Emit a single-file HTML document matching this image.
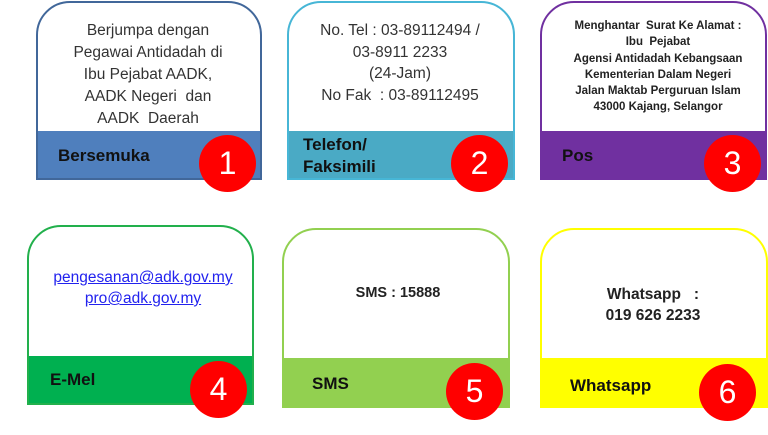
<!DOCTYPE html>
<html><head><meta charset="utf-8"><style>
body{margin:0;width:768px;height:435px;background:#fff;position:relative;overflow:hidden;font-family:"Liberation Sans",sans-serif}
.box{position:absolute;box-sizing:border-box;border:2px solid;border-radius:34px 34px 0 0;background:#fff;overflow:hidden}
.band{position:absolute;left:0;right:0;bottom:0}
.t{position:absolute;text-align:center;color:#333;white-space:nowrap;transform:translateX(-50%)}
.lbl{position:absolute;font-weight:bold;font-size:17px;color:#111;white-space:nowrap}
.c{position:absolute;width:57px;height:57px;border-radius:50%;background:#f00;color:#fff;font-size:32px;line-height:57px;text-align:center}
</style></head><body>
<div class="box" style="left:36px;top:1px;width:226px;height:179px;border-color:#41679a"><div class="band" style="height:47px;background:#4f7fbd"></div></div>
<div class="box" style="left:287px;top:1px;width:228px;height:179px;border-color:#47b6d6"><div class="band" style="height:47px;background:#4aaac5"></div></div>
<div class="box" style="left:540px;top:1px;width:227px;height:179px;border-color:#7030a0"><div class="band" style="height:47px;background:#7030a0"></div></div>
<div class="box" style="left:27px;top:225px;width:227px;height:180px;border-color:#22b04c"><div class="band" style="height:47px;background:#00b050"></div></div>
<div class="box" style="left:282px;top:228px;width:228px;height:180px;border-color:#92d050"><div class="band" style="height:48px;background:#92d050"></div></div>
<div class="box" style="left:540px;top:228px;width:228px;height:180px;border-color:#ffff00"><div class="band" style="height:48px;background:#ffff00"></div></div>

<div class="t" style="left:148px;top:20px;font-size:15.5px;line-height:22px">Berjumpa dengan<br>Pegawai Antidadah di<br>Ibu Pejabat AADK,<br>AADK Negeri&nbsp; dan<br>AADK&nbsp; Daerah</div>
<div class="t" style="left:400px;top:20px;font-size:15.5px;line-height:21.5px">No. Tel : 03-89112494 /<br>03-8911 2233<br>(24-Jam)<br>No Fak&nbsp; : 03-89112495</div>
<div class="t" style="left:658px;top:18px;font-size:11.5px;line-height:16.3px;font-weight:bold;color:#222">Menghantar&nbsp; Surat Ke Alamat :<br>Ibu&nbsp; Pejabat<br>Agensi Antidadah Kebangsaan<br>Kementerian Dalam Negeri<br>Jalan Maktab Perguruan Islam<br>43000 Kajang, Selangor</div>

<div class="t" style="left:143px;top:267px;font-size:15.5px;line-height:21px;color:#2222ee;text-decoration:underline">pengesanan@adk.gov.my<br>pro@adk.gov.my</div>
<div class="t" style="left:398px;top:285px;font-size:14.5px;font-weight:bold;color:#222">SMS : 15888</div>
<div class="t" style="left:653px;top:284px;font-size:15.5px;line-height:21px;font-weight:bold;color:#222">Whatsapp&nbsp;&nbsp;&nbsp;:<br>019 626 2233</div>

<div class="lbl" style="left:58px;top:146px">Bersemuka</div>
<div class="lbl" style="left:303px;top:134px;line-height:22px">Telefon/<br>Faksimili</div>
<div class="lbl" style="left:562px;top:146px">Pos</div>
<div class="lbl" style="left:50px;top:370px">E-Mel</div>
<div class="lbl" style="left:312px;top:374px">SMS</div>
<div class="lbl" style="left:570px;top:376px">Whatsapp</div>

<div class="c" style="left:199px;top:135px">1</div>
<div class="c" style="left:451px;top:135px">2</div>
<div class="c" style="left:704px;top:135px">3</div>
<div class="c" style="left:190px;top:361px">4</div>
<div class="c" style="left:446px;top:363px">5</div>
<div class="c" style="left:699px;top:364px">6</div>
</body></html>
